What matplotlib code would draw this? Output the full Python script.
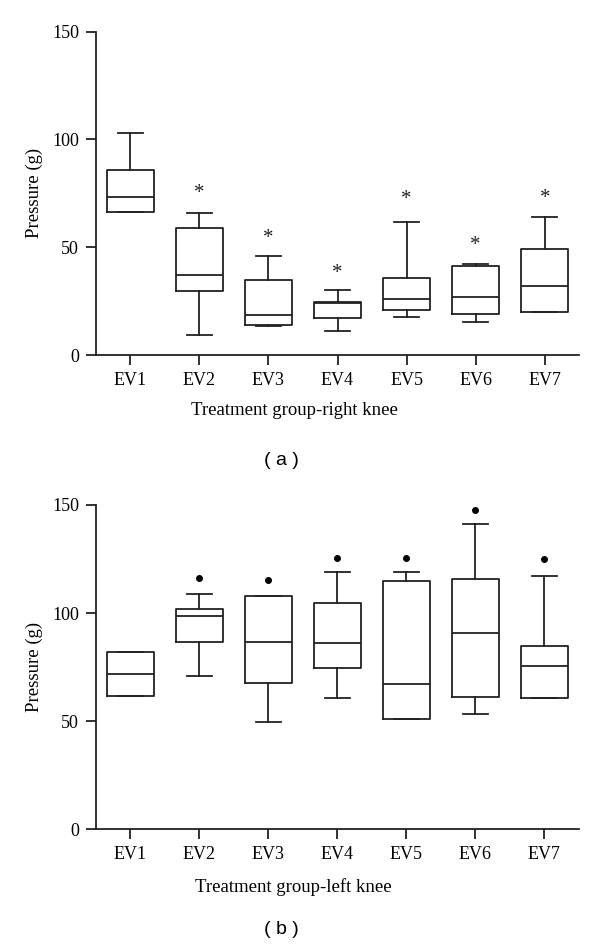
import matplotlib
matplotlib.use("Agg")
import matplotlib.pyplot as plt

groups = ["EV1", "EV2", "EV3", "EV4", "EV5", "EV6", "EV7"]

# (a) right knee: box statistics
right_whislo = [66.3, 9.3, 13.5, 11.3, 17.5, 15.2, 20.0]
right_q1 = [66.3, 29.7, 13.9, 17.3, 20.7, 18.9, 20.1]
right_med = [73.4, 37.3, 18.4, 24.3, 26.2, 26.9, 32.2]
right_q3 = [85.8, 59.1, 34.7, 24.8, 35.9, 41.5, 49.2]
right_whishi = [103.1, 66.1, 46.1, 30.3, 61.9, 42.1, 63.8]
right_star = [None, 75.0, 54.2, 37.6, 72.0, 50.8, 72.5]   # "*" markers

# (b) left knee
left_whislo = [61.4, 71.0, 49.4, 60.5, 51.1, 53.4, 60.6]
left_q1 = [61.4, 86.4, 67.6, 74.4, 51.1, 61.3, 60.6]
left_med = [71.9, 98.5, 86.7, 86.1, 67.1, 90.9, 75.6]
left_q3 = [81.9, 101.7, 107.7, 104.5, 114.8, 115.9, 84.7]
left_whishi = [81.9, 109.0, 108.0, 119.1, 118.8, 141.4, 117.0]
left_outlier = [None, 116.2, 115.1, 125.6, 125.6, 147.8, 124.8]

INK = "#222222"
SERIF = "Liberation Serif"
plt.rcParams["font.family"] = SERIF


def stats(lo, q1, med, q3, hi, fl):
    out = []
    for i in range(len(groups)):
        out.append(dict(whislo=lo[i], q1=q1[i], med=med[i], q3=q3[i], whishi=hi[i],
                        fliers=[fl[i]] if fl[i] is not None else [], label=groups[i]))
    return out


def panel(ax, st, xlabel, lab_y):
    lp = dict(color=INK, lw=1.3)
    ax.bxp(st, positions=range(1, 8), widths=0.68, capwidths=0.36,
           boxprops=lp, whiskerprops=lp, capprops=lp, medianprops=lp,
           flierprops=dict(marker="o", markersize=4, markerfacecolor="k",
                           markeredgecolor="k"))
    ax.set_xlim(0.5, 7.5)
    ax.set_ylim(0, 150)
    ax.set_yticks([0, 50, 100, 150])
    ax.set_xticks(range(1, 8))
    ax.set_xticklabels(groups)
    for s in ["top", "right"]:
        ax.spines[s].set_visible(False)
    for s in ["left", "bottom"]:
        ax.spines[s].set_linewidth(1.3)
        ax.spines[s].set_color(INK)
        ax.spines[s].set_clip_on(False)
    ax.tick_params(length=7, width=1.3, color=INK, labelsize=13, pad=5)
    ax.set_ylabel("Pressure (g)", fontsize=13.5)
    ax.yaxis.set_label_coords(-0.126, 0.5)
    ax.yaxis.label.set_va("center")
    ax.set_xlabel(xlabel, fontsize=13.5)
    ax.xaxis.set_label_coords(0.41, lab_y)
    ax.xaxis.label.set_va("center")


fig = plt.figure(figsize=(6, 9.48), dpi=100)

ax = fig.add_axes([0.1595, 0.6255, 0.806, 0.3411])
panel(ax, stats(right_whislo, right_q1, right_med, right_q3, right_whishi,
                [None] * 7), "Treatment group-right knee", -0.172)
for i, y in enumerate(right_star):
    if y is not None:
        ax.text(i + 1, y, "*", ha="center", va="center", fontsize=15, color=INK)

ax = fig.add_axes([0.1595, 0.1255, 0.805, 0.3418])
panel(ax, stats(left_whislo, left_q1, left_med, left_q3, left_whishi,
                left_outlier), "Treatment group-left knee", -0.178)

fig.text(281 / 600, 1 - 460 / 948, "( a )", ha="center", va="center",
         fontsize=14, family="Liberation Sans")
fig.text(281 / 600, 1 - 930 / 948, "( b )", ha="center", va="center",
         fontsize=14, family="Liberation Sans")

fig.savefig("out.png", dpi=100)
